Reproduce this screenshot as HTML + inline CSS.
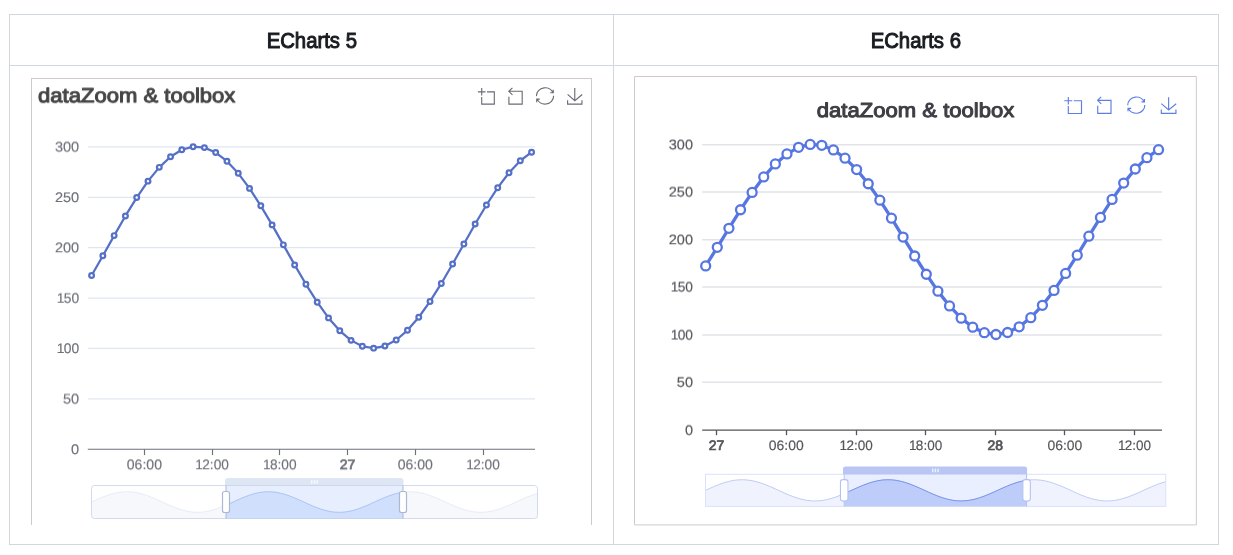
<!DOCTYPE html>
<html lang="en">
<head>
<meta charset="utf-8">
<title>dataZoom &amp; toolbox</title>
<style>
html,body{margin:0;padding:0;background:#fff;}
body{width:1233px;height:555px;overflow:hidden;position:relative;font-family:"Liberation Sans",sans-serif;}
table.cmp{position:absolute;left:9px;top:14px;width:1210px;height:531px;border-collapse:collapse;table-layout:fixed;}
table.cmp th,table.cmp td{border:1px solid #d0d7de;padding:0;}
table.cmp th{height:50px;font-size:21.5px;line-height:26px;font-weight:normal;color:#181b20;text-align:center;vertical-align:middle;}
table.cmp th span{display:inline-block;transform:scaleX(0.945);position:relative;top:1px;-webkit-text-stroke:1px #181b20;white-space:nowrap;}
table.cmp td{position:relative;vertical-align:top;}
.chart{position:absolute;box-sizing:border-box;border:1px solid #ccc;overflow:hidden;background:#fff;}
.chart svg{display:block;text-rendering:geometricPrecision;font-family:"Liberation Sans",sans-serif;}
#c5{left:21px;top:12px;width:561px;height:447px;border-bottom:none;}
#c6{left:20px;top:10px;width:564px;height:451px;border:none;}
</style>
</head>
<body>
<table class="cmp">
<colgroup><col style="width:604px"><col style="width:605px"></colgroup>
<thead><tr><th><span>ECharts 5</span></th><th><span>ECharts 6</span></th></tr></thead>
<tbody><tr>
<td><div class="chart" id="c5"><svg width="559" height="460" viewBox="0 0 559 460">
<defs><filter id="l-blur" x="-2%" y="-2%" width="104%" height="104%"><feGaussianBlur stdDeviation="0.45"/></filter></defs>
<g filter="url(#l-blur)">
<defs><filter id="l-s1" x="-50%" y="-50%" width="200%" height="200%"><feConvolveMatrix order="1 3" kernelMatrix="0 0.75 0.25" preserveAlpha="false"/></filter><filter id="l-s2" x="-50%" y="-50%" width="200%" height="200%"><feConvolveMatrix order="1 3" kernelMatrix="0 0.5 0.5" preserveAlpha="false"/></filter><filter id="l-s3" x="-50%" y="-50%" width="200%" height="200%"><feConvolveMatrix order="1 3" kernelMatrix="0 0.25 0.75" preserveAlpha="false"/></filter></defs>
<text x="6" y="23" font-size="20.2" fill="#464646" text-anchor="start" font-weight="normal" textLength="197.4" lengthAdjust="spacingAndGlyphs" filter="url(#l-s1)" stroke="#464646" stroke-width="1.0" stroke-linejoin="round">dataZoom &amp; toolbox</text>
<path d="M0,13.5h26.9 M13.5,26.9V0 M32.1,13.5H58V58H13.5 V32.1" transform="translate(445.9 9.1) scale(0.2828 0.2759) translate(0 0)" fill="none" stroke="#696b74" stroke-width="1.12" vector-effect="non-scaling-stroke" stroke-linecap="butt"/>
<path d="M22,1.4L9.9,13.5l12.3,12.3 M10.3,13.5H54.9v44.6 H10.3v-26" transform="translate(476.8 8.8) scale(0.2978 0.2875) translate(-9.9 -1.4)" fill="none" stroke="#696b74" stroke-width="1.12" vector-effect="non-scaling-stroke" stroke-linecap="butt"/>
<path d="M47,18.9h9.8V8.7 M56.3,20.1 C52.1,9,40.5,0.6,26.8,2.1C12.6,3.7,1.6,16.2,2.1,30.6 M13,41.1H3.1v10.2 M3.7,39.9c4.2,11.1,15.8,19.5,29.5,18 c14.2-1.6,25.2-14.1,24.7-28.5" transform="translate(504.4 8.8) scale(0.3082 0.2900) translate(-2.1 -1.9)" fill="none" stroke="#696b74" stroke-width="1.12" vector-effect="non-scaling-stroke" stroke-linecap="butt"/>
<path d="M4.7,22.9L29.3,45.5L54.7,23.4M4.6,43.6L4.6,58L53.8,58L53.8,43.6M29.2,45.1L29.2,0" transform="translate(535.6 9.1) scale(0.2914 0.2759) translate(-4.6 0)" fill="none" stroke="#696b74" stroke-width="1.12" vector-effect="non-scaling-stroke" stroke-linecap="butt"/>
<line x1="55.8" x2="503" y1="67.85" y2="67.85" stroke="#E0E6F1" stroke-width="1.25"/>
<line x1="55.8" x2="503" y1="118.25" y2="118.25" stroke="#E0E6F1" stroke-width="1.25"/>
<line x1="55.8" x2="503" y1="168.65" y2="168.65" stroke="#E0E6F1" stroke-width="1.25"/>
<line x1="55.8" x2="503" y1="219.05" y2="219.05" stroke="#E0E6F1" stroke-width="1.25"/>
<line x1="55.8" x2="503" y1="269.45" y2="269.45" stroke="#E0E6F1" stroke-width="1.25"/>
<line x1="55.8" x2="503" y1="319.85" y2="319.85" stroke="#E0E6F1" stroke-width="1.25"/>
<text transform="translate(47.2 72) scale(1.055 1)" font-size="13.8" fill="#6E7079" text-anchor="end" font-weight="normal" filter="url(#l-s2)" stroke="#6E7079" stroke-width="0.15">300</text>
<text transform="translate(47.2 123) scale(1.055 1)" font-size="13.8" fill="#6E7079" text-anchor="end" font-weight="normal" stroke="#6E7079" stroke-width="0.15">250</text>
<text transform="translate(47.2 173) scale(1.055 1)" font-size="13.8" fill="#6E7079" text-anchor="end" font-weight="normal" filter="url(#l-s1)" stroke="#6E7079" stroke-width="0.15">200</text>
<text transform="translate(47.2 223) scale(1.0022 1)" font-size="13.8" fill="#6E7079" text-anchor="end" font-weight="normal" filter="url(#l-s3)" stroke="#6E7079" stroke-width="0.15">1<tspan dx="-0.7">5</tspan>0</text>
<text transform="translate(47.2 274) scale(1.0022 1)" font-size="13.8" fill="#6E7079" text-anchor="end" font-weight="normal" stroke="#6E7079" stroke-width="0.15">1<tspan dx="-0.7">0</tspan>0</text>
<text transform="translate(47.2 324) scale(1.055 1)" font-size="13.8" fill="#6E7079" text-anchor="end" font-weight="normal" filter="url(#l-s2)" stroke="#6E7079" stroke-width="0.15">50</text>
<text transform="translate(47.2 375) scale(1.055 1)" font-size="13.8" fill="#6E7079" text-anchor="end" font-weight="normal" stroke="#6E7079" stroke-width="0.15">0</text>
<line x1="55.8" x2="503" y1="370.25" y2="370.25" stroke="#6E7079" stroke-width="1.15"/>
<line x1="112.5" x2="112.5" y1="370.25" y2="376.05" stroke="#6E7079" stroke-width="1.15"/>
<text transform="translate(112.4 390) scale(1.02 1)" font-size="13.8" fill="#6E7079" text-anchor="middle" font-weight="normal" filter="url(#l-s1)" stroke="#6E7079" stroke-width="0.15">06:00</text>
<line x1="180.5" x2="180.5" y1="370.25" y2="376.05" stroke="#6E7079" stroke-width="1.15"/>
<text transform="translate(180.1 390) scale(0.9894 1)" font-size="13.8" fill="#6E7079" text-anchor="middle" font-weight="normal" filter="url(#l-s1)" stroke="#6E7079" stroke-width="0.15">1<tspan dx="-0.7">2</tspan>:00</text>
<line x1="247.5" x2="247.5" y1="370.25" y2="376.05" stroke="#6E7079" stroke-width="1.15"/>
<text transform="translate(247.8 390) scale(0.9894 1)" font-size="13.8" fill="#6E7079" text-anchor="middle" font-weight="normal" filter="url(#l-s1)" stroke="#6E7079" stroke-width="0.15">1<tspan dx="-0.7">8</tspan>:00</text>
<line x1="315.5" x2="315.5" y1="370.25" y2="376.05" stroke="#6E7079" stroke-width="1.15"/>
<text transform="translate(315.6 390) scale(1.02 1)" font-size="13.8" fill="#6E7079" text-anchor="middle" font-weight="normal" filter="url(#l-s1)" stroke="#6E7079" stroke-width="0.7">27</text>
<line x1="383.5" x2="383.5" y1="370.25" y2="376.05" stroke="#6E7079" stroke-width="1.15"/>
<text transform="translate(383.3 390) scale(1.02 1)" font-size="13.8" fill="#6E7079" text-anchor="middle" font-weight="normal" filter="url(#l-s1)" stroke="#6E7079" stroke-width="0.15">06:00</text>
<line x1="451.5" x2="451.5" y1="370.25" y2="376.05" stroke="#6E7079" stroke-width="1.15"/>
<text transform="translate(451 390) scale(0.9894 1)" font-size="13.8" fill="#6E7079" text-anchor="middle" font-weight="normal" filter="url(#l-s1)" stroke="#6E7079" stroke-width="0.15">1<tspan dx="-0.7">2</tspan>:00</text>
<polyline points="59.58,196.52 70.87,176.73 82.15,156.6 93.43,136.95 104.71,118.54 115.99,102.13 127.28,88.35 138.56,77.76 149.84,70.78 161.12,67.7 172.4,68.62 183.69,73.52 194.97,82.21 206.25,94.32 217.53,109.39 228.81,126.81 240.1,145.88 251.38,165.85 262.66,185.92 273.94,205.29 285.22,223.19 296.51,238.9 307.79,251.79 319.07,261.37 330.35,267.23 341.63,269.15 352.92,267.05 364.2,261.02 375.48,251.29 386.76,238.26 398.04,222.44 409.33,204.46 420.61,185.04 431.89,164.96 443.17,145.01 454.45,126 465.74,108.67 477.02,93.72 488.3,81.75 499.58,73.23" fill="none" stroke="#5470c6" stroke-width="2.24" stroke-linejoin="bevel"/>
<circle cx="59.58" cy="196.52" r="2.35" fill="#fff" stroke="#5470c6" stroke-width="2.24"/>
<circle cx="70.87" cy="176.73" r="2.35" fill="#fff" stroke="#5470c6" stroke-width="2.24"/>
<circle cx="82.15" cy="156.6" r="2.35" fill="#fff" stroke="#5470c6" stroke-width="2.24"/>
<circle cx="93.43" cy="136.95" r="2.35" fill="#fff" stroke="#5470c6" stroke-width="2.24"/>
<circle cx="104.71" cy="118.54" r="2.35" fill="#fff" stroke="#5470c6" stroke-width="2.24"/>
<circle cx="115.99" cy="102.13" r="2.35" fill="#fff" stroke="#5470c6" stroke-width="2.24"/>
<circle cx="127.28" cy="88.35" r="2.35" fill="#fff" stroke="#5470c6" stroke-width="2.24"/>
<circle cx="138.56" cy="77.76" r="2.35" fill="#fff" stroke="#5470c6" stroke-width="2.24"/>
<circle cx="149.84" cy="70.78" r="2.35" fill="#fff" stroke="#5470c6" stroke-width="2.24"/>
<circle cx="161.12" cy="67.7" r="2.35" fill="#fff" stroke="#5470c6" stroke-width="2.24"/>
<circle cx="172.4" cy="68.62" r="2.35" fill="#fff" stroke="#5470c6" stroke-width="2.24"/>
<circle cx="183.69" cy="73.52" r="2.35" fill="#fff" stroke="#5470c6" stroke-width="2.24"/>
<circle cx="194.97" cy="82.21" r="2.35" fill="#fff" stroke="#5470c6" stroke-width="2.24"/>
<circle cx="206.25" cy="94.32" r="2.35" fill="#fff" stroke="#5470c6" stroke-width="2.24"/>
<circle cx="217.53" cy="109.39" r="2.35" fill="#fff" stroke="#5470c6" stroke-width="2.24"/>
<circle cx="228.81" cy="126.81" r="2.35" fill="#fff" stroke="#5470c6" stroke-width="2.24"/>
<circle cx="240.1" cy="145.88" r="2.35" fill="#fff" stroke="#5470c6" stroke-width="2.24"/>
<circle cx="251.38" cy="165.85" r="2.35" fill="#fff" stroke="#5470c6" stroke-width="2.24"/>
<circle cx="262.66" cy="185.92" r="2.35" fill="#fff" stroke="#5470c6" stroke-width="2.24"/>
<circle cx="273.94" cy="205.29" r="2.35" fill="#fff" stroke="#5470c6" stroke-width="2.24"/>
<circle cx="285.22" cy="223.19" r="2.35" fill="#fff" stroke="#5470c6" stroke-width="2.24"/>
<circle cx="296.51" cy="238.9" r="2.35" fill="#fff" stroke="#5470c6" stroke-width="2.24"/>
<circle cx="307.79" cy="251.79" r="2.35" fill="#fff" stroke="#5470c6" stroke-width="2.24"/>
<circle cx="319.07" cy="261.37" r="2.35" fill="#fff" stroke="#5470c6" stroke-width="2.24"/>
<circle cx="330.35" cy="267.23" r="2.35" fill="#fff" stroke="#5470c6" stroke-width="2.24"/>
<circle cx="341.63" cy="269.15" r="2.35" fill="#fff" stroke="#5470c6" stroke-width="2.24"/>
<circle cx="352.92" cy="267.05" r="2.35" fill="#fff" stroke="#5470c6" stroke-width="2.24"/>
<circle cx="364.2" cy="261.02" r="2.35" fill="#fff" stroke="#5470c6" stroke-width="2.24"/>
<circle cx="375.48" cy="251.29" r="2.35" fill="#fff" stroke="#5470c6" stroke-width="2.24"/>
<circle cx="386.76" cy="238.26" r="2.35" fill="#fff" stroke="#5470c6" stroke-width="2.24"/>
<circle cx="398.04" cy="222.44" r="2.35" fill="#fff" stroke="#5470c6" stroke-width="2.24"/>
<circle cx="409.33" cy="204.46" r="2.35" fill="#fff" stroke="#5470c6" stroke-width="2.24"/>
<circle cx="420.61" cy="185.04" r="2.35" fill="#fff" stroke="#5470c6" stroke-width="2.24"/>
<circle cx="431.89" cy="164.96" r="2.35" fill="#fff" stroke="#5470c6" stroke-width="2.24"/>
<circle cx="443.17" cy="145.01" r="2.35" fill="#fff" stroke="#5470c6" stroke-width="2.24"/>
<circle cx="454.45" cy="126" r="2.35" fill="#fff" stroke="#5470c6" stroke-width="2.24"/>
<circle cx="465.74" cy="108.67" r="2.35" fill="#fff" stroke="#5470c6" stroke-width="2.24"/>
<circle cx="477.02" cy="93.72" r="2.35" fill="#fff" stroke="#5470c6" stroke-width="2.24"/>
<circle cx="488.3" cy="81.75" r="2.35" fill="#fff" stroke="#5470c6" stroke-width="2.24"/>
<circle cx="499.58" cy="73.23" r="2.35" fill="#fff" stroke="#5470c6" stroke-width="2.24"/>
<defs><clipPath id="l-sel"><rect x="194" y="406.5" width="177" height="33"/></clipPath></defs>
<rect x="59.5" y="406.5" width="446" height="33" fill="none"/>
<path d="M59.5,439.5 L59.5,423 L64.01,420.95 L68.51,418.98 L73.02,417.18 L77.52,415.6 L82.03,414.32 L86.53,413.39 L91.04,412.84 L95.54,412.69 L100.05,412.96 L104.55,413.62 L109.06,414.66 L113.56,416.03 L118.07,417.68 L122.57,419.55 L127.08,421.54 L131.58,423.6 L136.09,425.64 L140.59,427.56 L145.1,429.31 L149.6,430.8 L154.11,431.99 L158.61,432.81 L163.12,433.25 L167.62,433.27 L172.13,432.89 L176.63,432.11 L181.14,430.97 L185.64,429.51 L190.15,427.79 L194.65,425.88 L199.16,423.86 L203.66,421.8 L208.17,419.79 L212.67,417.9 L217.18,416.22 L221.68,414.82 L226.19,413.73 L230.69,413.02 L235.2,412.7 L239.7,412.8 L244.21,413.3 L248.71,414.19 L253.22,415.43 L257.72,416.97 L262.23,418.75 L266.73,420.7 L271.24,422.74 L275.74,424.8 L280.25,426.78 L284.75,428.61 L289.26,430.22 L293.76,431.54 L298.27,432.52 L302.77,433.12 L307.28,433.31 L311.78,433.1 L316.29,432.48 L320.79,431.49 L325.3,430.15 L329.8,428.53 L334.31,426.69 L338.81,424.71 L343.32,422.65 L347.82,420.61 L352.33,418.67 L356.83,416.89 L361.34,415.36 L365.84,414.14 L370.35,413.27 L374.85,412.78 L379.36,412.71 L383.86,413.04 L388.37,413.77 L392.87,414.87 L397.38,416.29 L401.88,417.98 L406.39,419.87 L410.89,421.89 L415.4,423.95 L419.9,425.97 L424.41,427.87 L428.91,429.58 L433.42,431.03 L437.92,432.15 L442.43,432.91 L446.93,433.28 L451.44,433.24 L455.94,432.78 L460.45,431.94 L464.95,430.74 L469.46,429.24 L473.96,427.48 L478.47,425.55 L482.97,423.51 L487.48,421.45 L491.98,419.46 L496.49,417.61 L500.99,415.97 L505.5,414.61 L505.5,439.5 Z" fill="#d2dbee" fill-opacity="0.2"/>
<polyline points="59.5,423 64.01,420.95 68.51,418.98 73.02,417.18 77.52,415.6 82.03,414.32 86.53,413.39 91.04,412.84 95.54,412.69 100.05,412.96 104.55,413.62 109.06,414.66 113.56,416.03 118.07,417.68 122.57,419.55 127.08,421.54 131.58,423.6 136.09,425.64 140.59,427.56 145.1,429.31 149.6,430.8 154.11,431.99 158.61,432.81 163.12,433.25 167.62,433.27 172.13,432.89 176.63,432.11 181.14,430.97 185.64,429.51 190.15,427.79 194.65,425.88 199.16,423.86 203.66,421.8 208.17,419.79 212.67,417.9 217.18,416.22 221.68,414.82 226.19,413.73 230.69,413.02 235.2,412.7 239.7,412.8 244.21,413.3 248.71,414.19 253.22,415.43 257.72,416.97 262.23,418.75 266.73,420.7 271.24,422.74 275.74,424.8 280.25,426.78 284.75,428.61 289.26,430.22 293.76,431.54 298.27,432.52 302.77,433.12 307.28,433.31 311.78,433.1 316.29,432.48 320.79,431.49 325.3,430.15 329.8,428.53 334.31,426.69 338.81,424.71 343.32,422.65 347.82,420.61 352.33,418.67 356.83,416.89 361.34,415.36 365.84,414.14 370.35,413.27 374.85,412.78 379.36,412.71 383.86,413.04 388.37,413.77 392.87,414.87 397.38,416.29 401.88,417.98 406.39,419.87 410.89,421.89 415.4,423.95 419.9,425.97 424.41,427.87 428.91,429.58 433.42,431.03 437.92,432.15 442.43,432.91 446.93,433.28 451.44,433.24 455.94,432.78 460.45,431.94 464.95,430.74 469.46,429.24 473.96,427.48 478.47,425.55 482.97,423.51 487.48,421.45 491.98,419.46 496.49,417.61 500.99,415.97 505.5,414.61" fill="none" stroke="#d2dbee" stroke-width="0.5"/>
<rect x="59.5" y="406.5" width="446" height="33" rx="3" fill="none" stroke="#d2dbee" stroke-width="1"/>
<g clip-path="url(#l-sel)">
<path d="M59.5,439.5 L59.5,423 L64.01,420.95 L68.51,418.98 L73.02,417.18 L77.52,415.6 L82.03,414.32 L86.53,413.39 L91.04,412.84 L95.54,412.69 L100.05,412.96 L104.55,413.62 L109.06,414.66 L113.56,416.03 L118.07,417.68 L122.57,419.55 L127.08,421.54 L131.58,423.6 L136.09,425.64 L140.59,427.56 L145.1,429.31 L149.6,430.8 L154.11,431.99 L158.61,432.81 L163.12,433.25 L167.62,433.27 L172.13,432.89 L176.63,432.11 L181.14,430.97 L185.64,429.51 L190.15,427.79 L194.65,425.88 L199.16,423.86 L203.66,421.8 L208.17,419.79 L212.67,417.9 L217.18,416.22 L221.68,414.82 L226.19,413.73 L230.69,413.02 L235.2,412.7 L239.7,412.8 L244.21,413.3 L248.71,414.19 L253.22,415.43 L257.72,416.97 L262.23,418.75 L266.73,420.7 L271.24,422.74 L275.74,424.8 L280.25,426.78 L284.75,428.61 L289.26,430.22 L293.76,431.54 L298.27,432.52 L302.77,433.12 L307.28,433.31 L311.78,433.1 L316.29,432.48 L320.79,431.49 L325.3,430.15 L329.8,428.53 L334.31,426.69 L338.81,424.71 L343.32,422.65 L347.82,420.61 L352.33,418.67 L356.83,416.89 L361.34,415.36 L365.84,414.14 L370.35,413.27 L374.85,412.78 L379.36,412.71 L383.86,413.04 L388.37,413.77 L392.87,414.87 L397.38,416.29 L401.88,417.98 L406.39,419.87 L410.89,421.89 L415.4,423.95 L419.9,425.97 L424.41,427.87 L428.91,429.58 L433.42,431.03 L437.92,432.15 L442.43,432.91 L446.93,433.28 L451.44,433.24 L455.94,432.78 L460.45,431.94 L464.95,430.74 L469.46,429.24 L473.96,427.48 L478.47,425.55 L482.97,423.51 L487.48,421.45 L491.98,419.46 L496.49,417.61 L500.99,415.97 L505.5,414.61 L505.5,439.5 Z" fill="#8fb0f7" fill-opacity="0.2"/>
<polyline points="59.5,423 64.01,420.95 68.51,418.98 73.02,417.18 77.52,415.6 82.03,414.32 86.53,413.39 91.04,412.84 95.54,412.69 100.05,412.96 104.55,413.62 109.06,414.66 113.56,416.03 118.07,417.68 122.57,419.55 127.08,421.54 131.58,423.6 136.09,425.64 140.59,427.56 145.1,429.31 149.6,430.8 154.11,431.99 158.61,432.81 163.12,433.25 167.62,433.27 172.13,432.89 176.63,432.11 181.14,430.97 185.64,429.51 190.15,427.79 194.65,425.88 199.16,423.86 203.66,421.8 208.17,419.79 212.67,417.9 217.18,416.22 221.68,414.82 226.19,413.73 230.69,413.02 235.2,412.7 239.7,412.8 244.21,413.3 248.71,414.19 253.22,415.43 257.72,416.97 262.23,418.75 266.73,420.7 271.24,422.74 275.74,424.8 280.25,426.78 284.75,428.61 289.26,430.22 293.76,431.54 298.27,432.52 302.77,433.12 307.28,433.31 311.78,433.1 316.29,432.48 320.79,431.49 325.3,430.15 329.8,428.53 334.31,426.69 338.81,424.71 343.32,422.65 347.82,420.61 352.33,418.67 356.83,416.89 361.34,415.36 365.84,414.14 370.35,413.27 374.85,412.78 379.36,412.71 383.86,413.04 388.37,413.77 392.87,414.87 397.38,416.29 401.88,417.98 406.39,419.87 410.89,421.89 415.4,423.95 419.9,425.97 424.41,427.87 428.91,429.58 433.42,431.03 437.92,432.15 442.43,432.91 446.93,433.28 451.44,433.24 455.94,432.78 460.45,431.94 464.95,430.74 469.46,429.24 473.96,427.48 478.47,425.55 482.97,423.51 487.48,421.45 491.98,419.46 496.49,417.61 500.99,415.97 505.5,414.61" fill="none" stroke="#8fb0f7" stroke-width="0.5"/>
</g>
<rect x="194" y="406.5" width="177" height="33" fill="rgba(135,175,255,0.2)"/>
<path d="M193,406.5 V402.1 Q193,399.1 196,399.1 H368.5 Q371.5,399.1 371.5,402.1 V406.5 Z" fill="rgba(210,219,238,0.7)"/>
<rect x="279.1" y="401.1" width="1.4" height="3.6" fill="#fff" fill-opacity="0.75"/>
<rect x="281.8" y="401.1" width="1.4" height="3.6" fill="#fff" fill-opacity="0.75"/>
<rect x="284.5" y="401.1" width="1.4" height="3.6" fill="#fff" fill-opacity="0.75"/>
<line x1="194" x2="194" y1="406.5" y2="439.5" stroke="#ACB8D1" stroke-width="1"/>
<rect x="190.5" y="412.5" width="7" height="21" rx="2" fill="#fff" stroke="#ACB8D1" stroke-width="1.2"/>
<line x1="371" x2="371" y1="406.5" y2="439.5" stroke="#ACB8D1" stroke-width="1"/>
<rect x="367.5" y="412.5" width="7" height="21" rx="2" fill="#fff" stroke="#ACB8D1" stroke-width="1.2"/>
</g>

</svg></div></td>
<td><div class="chart" id="c6"><svg width="564" height="451" viewBox="0 0 564 451">
<defs><filter id="r-blur" x="-2%" y="-2%" width="104%" height="104%"><feGaussianBlur stdDeviation="0.45"/></filter></defs>
<g filter="url(#r-blur)">
<defs><filter id="r-s1" x="-50%" y="-50%" width="200%" height="200%"><feConvolveMatrix order="1 3" kernelMatrix="0 0.75 0.25" preserveAlpha="false"/></filter><filter id="r-s2" x="-50%" y="-50%" width="200%" height="200%"><feConvolveMatrix order="1 3" kernelMatrix="0 0.5 0.5" preserveAlpha="false"/></filter><filter id="r-s3" x="-50%" y="-50%" width="200%" height="200%"><feConvolveMatrix order="1 3" kernelMatrix="0 0.25 0.75" preserveAlpha="false"/></filter></defs>
<text x="281.55" y="41" font-size="20.2" fill="#3d3d44" text-anchor="middle" font-weight="normal" textLength="197.6" lengthAdjust="spacingAndGlyphs" stroke="#3d3d44" stroke-width="1.0" stroke-linejoin="round">dataZoom &amp; toolbox</text>
<path d="M0,13.5h26.9 M13.5,26.9V0 M32.1,13.5H58V58H13.5 V32.1" transform="translate(430.3 20.9) scale(0.2966 0.2862) translate(0 0)" fill="none" stroke="#5f7fe0" stroke-width="1.15" vector-effect="non-scaling-stroke" stroke-linecap="butt"/>
<path d="M22,1.4L9.9,13.5l12.3,12.3 M10.3,13.5H54.9v44.6 H10.3v-26" transform="translate(463.6 20.8) scale(0.2978 0.2928) translate(-9.9 -1.4)" fill="none" stroke="#5f7fe0" stroke-width="1.15" vector-effect="non-scaling-stroke" stroke-linecap="butt"/>
<path d="M47,18.9h9.8V8.7 M56.3,20.1 C52.1,9,40.5,0.6,26.8,2.1C12.6,3.7,1.6,16.2,2.1,30.6 M13,41.1H3.1v10.2 M3.7,39.9c4.2,11.1,15.8,19.5,29.5,18 c14.2-1.6,25.2-14.1,24.7-28.5" transform="translate(493.7 21) scale(0.3065 0.2900) translate(-2.1 -1.9)" fill="none" stroke="#5f7fe0" stroke-width="1.15" vector-effect="non-scaling-stroke" stroke-linecap="butt"/>
<path d="M4.7,22.9L29.3,45.5L54.7,23.4M4.6,43.6L4.6,58L53.8,58L53.8,43.6M29.2,45.1L29.2,0" transform="translate(527.3 21.3) scale(0.2974 0.2776) translate(-4.6 0)" fill="none" stroke="#5f7fe0" stroke-width="1.15" vector-effect="non-scaling-stroke" stroke-linecap="butt"/>
<line x1="68.2" x2="528" y1="68.8" y2="68.8" stroke="#e2e3e8" stroke-width="1.5"/>
<line x1="68.2" x2="528" y1="115.9" y2="115.9" stroke="#e2e3e8" stroke-width="1.5"/>
<line x1="68.2" x2="528" y1="163.7" y2="163.7" stroke="#e2e3e8" stroke-width="1.5"/>
<line x1="68.2" x2="528" y1="211" y2="211" stroke="#e2e3e8" stroke-width="1.5"/>
<line x1="68.2" x2="528" y1="258.9" y2="258.9" stroke="#e2e3e8" stroke-width="1.5"/>
<line x1="68.2" x2="528" y1="306.2" y2="306.2" stroke="#e2e3e8" stroke-width="1.5"/>
<text transform="translate(59 73) scale(1.06 1)" font-size="13.7" fill="#54555a" text-anchor="end" font-weight="normal" filter="url(#r-s1)" stroke="#54555a" stroke-width="0.15">300</text>
<text transform="translate(59 120) scale(1.06 1)" font-size="13.7" fill="#54555a" text-anchor="end" font-weight="normal" filter="url(#r-s2)" stroke="#54555a" stroke-width="0.15">250</text>
<text transform="translate(59 168) scale(1.06 1)" font-size="13.7" fill="#54555a" text-anchor="end" font-weight="normal" filter="url(#r-s1)" stroke="#54555a" stroke-width="0.15">200</text>
<text transform="translate(59 215) scale(1.007 1)" font-size="13.7" fill="#54555a" text-anchor="end" font-weight="normal" filter="url(#r-s2)" stroke="#54555a" stroke-width="0.15">1<tspan dx="-0.7">5</tspan>0</text>
<text transform="translate(59 263) scale(1.007 1)" font-size="13.7" fill="#54555a" text-anchor="end" font-weight="normal" filter="url(#r-s2)" stroke="#54555a" stroke-width="0.15">1<tspan dx="-0.7">0</tspan>0</text>
<text transform="translate(59 310) scale(1.06 1)" font-size="13.7" fill="#54555a" text-anchor="end" font-weight="normal" filter="url(#r-s3)" stroke="#54555a" stroke-width="0.15">50</text>
<text transform="translate(59 358) scale(1.06 1)" font-size="13.7" fill="#54555a" text-anchor="end" font-weight="normal" filter="url(#r-s3)" stroke="#54555a" stroke-width="0.15">0</text>
<line x1="68.2" x2="528" y1="354.2" y2="354.2" stroke="#54555a" stroke-width="1.3"/>
<line x1="82.5" x2="82.5" y1="354.2" y2="359.2" stroke="#54555a" stroke-width="1.3"/>
<text transform="translate(82.5 374) scale(1.02 1)" font-size="13.7" fill="#54555a" text-anchor="middle" font-weight="normal" stroke="#54555a" stroke-width="0.7">27</text>
<line x1="152.5" x2="152.5" y1="354.2" y2="359.2" stroke="#54555a" stroke-width="1.3"/>
<text transform="translate(152.2 374) scale(1.02 1)" font-size="13.7" fill="#54555a" text-anchor="middle" font-weight="normal" stroke="#54555a" stroke-width="0.15">06:00</text>
<line x1="222.5" x2="222.5" y1="354.2" y2="359.2" stroke="#54555a" stroke-width="1.3"/>
<text transform="translate(222.2 374) scale(0.9894 1)" font-size="13.7" fill="#54555a" text-anchor="middle" font-weight="normal" stroke="#54555a" stroke-width="0.15">1<tspan dx="-0.7">2</tspan>:00</text>
<line x1="291.5" x2="291.5" y1="354.2" y2="359.2" stroke="#54555a" stroke-width="1.3"/>
<text transform="translate(291.6 374) scale(0.9894 1)" font-size="13.7" fill="#54555a" text-anchor="middle" font-weight="normal" stroke="#54555a" stroke-width="0.15">1<tspan dx="-0.7">8</tspan>:00</text>
<line x1="361.5" x2="361.5" y1="354.2" y2="359.2" stroke="#54555a" stroke-width="1.3"/>
<text transform="translate(361.3 374) scale(1.02 1)" font-size="13.7" fill="#54555a" text-anchor="middle" font-weight="normal" stroke="#54555a" stroke-width="0.7">28</text>
<line x1="430.5" x2="430.5" y1="354.2" y2="359.2" stroke="#54555a" stroke-width="1.3"/>
<text transform="translate(430.9 374) scale(1.02 1)" font-size="13.7" fill="#54555a" text-anchor="middle" font-weight="normal" stroke="#54555a" stroke-width="0.15">06:00</text>
<line x1="500.5" x2="500.5" y1="354.2" y2="359.2" stroke="#54555a" stroke-width="1.3"/>
<text transform="translate(500.5 374) scale(0.9894 1)" font-size="13.7" fill="#54555a" text-anchor="middle" font-weight="normal" stroke="#54555a" stroke-width="0.15">1<tspan dx="-0.7">2</tspan>:00</text>
<polyline points="71.68,189.97 83.29,171.3 94.91,152.32 106.52,133.77 118.13,116.41 129.74,100.92 141.35,87.92 152.96,77.93 164.57,71.35 176.18,68.44 187.79,69.31 199.41,73.94 211.02,82.13 222.63,93.56 234.24,107.77 245.85,124.21 257.46,142.2 269.07,161.04 280.68,179.98 292.29,198.25 303.91,215.14 315.52,229.96 327.13,242.13 338.74,251.16 350.35,256.69 361.96,258.5 373.57,256.52 385.18,250.83 396.79,241.65 408.41,229.35 420.02,214.43 431.63,197.47 443.24,179.15 454.85,160.2 466.46,141.38 478.07,123.44 489.68,107.09 501.29,92.99 512.91,81.69 524.52,73.65" fill="none" stroke="#5776e1" stroke-width="3.3" stroke-linejoin="bevel"/>
<circle cx="71.68" cy="189.97" r="4.5" fill="#fff" stroke="#5776e1" stroke-width="2.3"/>
<circle cx="83.29" cy="171.3" r="4.5" fill="#fff" stroke="#5776e1" stroke-width="2.3"/>
<circle cx="94.91" cy="152.32" r="4.5" fill="#fff" stroke="#5776e1" stroke-width="2.3"/>
<circle cx="106.52" cy="133.77" r="4.5" fill="#fff" stroke="#5776e1" stroke-width="2.3"/>
<circle cx="118.13" cy="116.41" r="4.5" fill="#fff" stroke="#5776e1" stroke-width="2.3"/>
<circle cx="129.74" cy="100.92" r="4.5" fill="#fff" stroke="#5776e1" stroke-width="2.3"/>
<circle cx="141.35" cy="87.92" r="4.5" fill="#fff" stroke="#5776e1" stroke-width="2.3"/>
<circle cx="152.96" cy="77.93" r="4.5" fill="#fff" stroke="#5776e1" stroke-width="2.3"/>
<circle cx="164.57" cy="71.35" r="4.5" fill="#fff" stroke="#5776e1" stroke-width="2.3"/>
<circle cx="176.18" cy="68.44" r="4.5" fill="#fff" stroke="#5776e1" stroke-width="2.3"/>
<circle cx="187.79" cy="69.31" r="4.5" fill="#fff" stroke="#5776e1" stroke-width="2.3"/>
<circle cx="199.41" cy="73.94" r="4.5" fill="#fff" stroke="#5776e1" stroke-width="2.3"/>
<circle cx="211.02" cy="82.13" r="4.5" fill="#fff" stroke="#5776e1" stroke-width="2.3"/>
<circle cx="222.63" cy="93.56" r="4.5" fill="#fff" stroke="#5776e1" stroke-width="2.3"/>
<circle cx="234.24" cy="107.77" r="4.5" fill="#fff" stroke="#5776e1" stroke-width="2.3"/>
<circle cx="245.85" cy="124.21" r="4.5" fill="#fff" stroke="#5776e1" stroke-width="2.3"/>
<circle cx="257.46" cy="142.2" r="4.5" fill="#fff" stroke="#5776e1" stroke-width="2.3"/>
<circle cx="269.07" cy="161.04" r="4.5" fill="#fff" stroke="#5776e1" stroke-width="2.3"/>
<circle cx="280.68" cy="179.98" r="4.5" fill="#fff" stroke="#5776e1" stroke-width="2.3"/>
<circle cx="292.29" cy="198.25" r="4.5" fill="#fff" stroke="#5776e1" stroke-width="2.3"/>
<circle cx="303.91" cy="215.14" r="4.5" fill="#fff" stroke="#5776e1" stroke-width="2.3"/>
<circle cx="315.52" cy="229.96" r="4.5" fill="#fff" stroke="#5776e1" stroke-width="2.3"/>
<circle cx="327.13" cy="242.13" r="4.5" fill="#fff" stroke="#5776e1" stroke-width="2.3"/>
<circle cx="338.74" cy="251.16" r="4.5" fill="#fff" stroke="#5776e1" stroke-width="2.3"/>
<circle cx="350.35" cy="256.69" r="4.5" fill="#fff" stroke="#5776e1" stroke-width="2.3"/>
<circle cx="361.96" cy="258.5" r="4.5" fill="#fff" stroke="#5776e1" stroke-width="2.3"/>
<circle cx="373.57" cy="256.52" r="4.5" fill="#fff" stroke="#5776e1" stroke-width="2.3"/>
<circle cx="385.18" cy="250.83" r="4.5" fill="#fff" stroke="#5776e1" stroke-width="2.3"/>
<circle cx="396.79" cy="241.65" r="4.5" fill="#fff" stroke="#5776e1" stroke-width="2.3"/>
<circle cx="408.41" cy="229.35" r="4.5" fill="#fff" stroke="#5776e1" stroke-width="2.3"/>
<circle cx="420.02" cy="214.43" r="4.5" fill="#fff" stroke="#5776e1" stroke-width="2.3"/>
<circle cx="431.63" cy="197.47" r="4.5" fill="#fff" stroke="#5776e1" stroke-width="2.3"/>
<circle cx="443.24" cy="179.15" r="4.5" fill="#fff" stroke="#5776e1" stroke-width="2.3"/>
<circle cx="454.85" cy="160.2" r="4.5" fill="#fff" stroke="#5776e1" stroke-width="2.3"/>
<circle cx="466.46" cy="141.38" r="4.5" fill="#fff" stroke="#5776e1" stroke-width="2.3"/>
<circle cx="478.07" cy="123.44" r="4.5" fill="#fff" stroke="#5776e1" stroke-width="2.3"/>
<circle cx="489.68" cy="107.09" r="4.5" fill="#fff" stroke="#5776e1" stroke-width="2.3"/>
<circle cx="501.29" cy="92.99" r="4.5" fill="#fff" stroke="#5776e1" stroke-width="2.3"/>
<circle cx="512.91" cy="81.69" r="4.5" fill="#fff" stroke="#5776e1" stroke-width="2.3"/>
<circle cx="524.52" cy="73.65" r="4.5" fill="#fff" stroke="#5776e1" stroke-width="2.3"/>
<defs><clipPath id="r-sel"><rect x="210.2" y="398.3" width="182.4" height="32.1"/></clipPath></defs>
<rect x="71.5" y="398.3" width="460.2" height="32.1" fill="none"/>
<path d="M71.5,430.4 L71.5,414.35 L76.15,412.24 L80.8,410.21 L85.45,408.35 L90.09,406.73 L94.74,405.41 L99.39,404.44 L104.04,403.88 L108.69,403.73 L113.34,404 L117.98,404.68 L122.63,405.76 L127.28,407.17 L131.93,408.87 L136.58,410.79 L141.23,412.85 L145.88,414.97 L150.52,417.07 L155.17,419.05 L159.82,420.85 L164.47,422.39 L169.12,423.61 L173.77,424.46 L178.42,424.91 L183.06,424.94 L187.71,424.54 L192.36,423.74 L197.01,422.56 L201.66,421.06 L206.31,419.29 L210.95,417.32 L215.6,415.23 L220.25,413.11 L224.9,411.04 L229.55,409.1 L234.2,407.37 L238.85,405.91 L243.49,404.8 L248.14,404.06 L252.79,403.74 L257.44,403.83 L262.09,404.35 L266.74,405.27 L271.38,406.54 L276.03,408.13 L280.68,409.97 L285.33,411.98 L289.98,414.09 L294.63,416.2 L299.28,418.25 L303.92,420.13 L308.57,421.79 L313.22,423.15 L317.87,424.16 L322.52,424.78 L327.17,424.98 L331.82,424.76 L336.46,424.12 L341.11,423.1 L345.76,421.72 L350.41,420.05 L355.06,418.16 L359.71,416.11 L364.35,413.99 L369,411.89 L373.65,409.88 L378.3,408.06 L382.95,406.48 L387.6,405.22 L392.25,404.32 L396.89,403.82 L401.54,403.74 L406.19,404.09 L410.84,404.84 L415.49,405.97 L420.14,407.44 L424.78,409.18 L429.43,411.13 L434.08,413.2 L438.73,415.33 L443.38,417.41 L448.03,419.37 L452.68,421.13 L457.32,422.62 L461.97,423.78 L466.62,424.57 L471.27,424.95 L475.92,424.9 L480.57,424.44 L485.22,423.57 L489.86,422.33 L494.51,420.78 L499.16,418.97 L503.81,416.98 L508.46,414.88 L513.11,412.76 L517.75,410.7 L522.4,408.79 L527.05,407.1 L531.7,405.7 L531.7,430.4 Z" fill="#f0f3fe" fill-opacity="1"/>
<polyline points="71.5,414.35 76.15,412.24 80.8,410.21 85.45,408.35 90.09,406.73 94.74,405.41 99.39,404.44 104.04,403.88 108.69,403.73 113.34,404 117.98,404.68 122.63,405.76 127.28,407.17 131.93,408.87 136.58,410.79 141.23,412.85 145.88,414.97 150.52,417.07 155.17,419.05 159.82,420.85 164.47,422.39 169.12,423.61 173.77,424.46 178.42,424.91 183.06,424.94 187.71,424.54 192.36,423.74 197.01,422.56 201.66,421.06 206.31,419.29 210.95,417.32 215.6,415.23 220.25,413.11 224.9,411.04 229.55,409.1 234.2,407.37 238.85,405.91 243.49,404.8 248.14,404.06 252.79,403.74 257.44,403.83 262.09,404.35 266.74,405.27 271.38,406.54 276.03,408.13 280.68,409.97 285.33,411.98 289.98,414.09 294.63,416.2 299.28,418.25 303.92,420.13 308.57,421.79 313.22,423.15 317.87,424.16 322.52,424.78 327.17,424.98 331.82,424.76 336.46,424.12 341.11,423.1 345.76,421.72 350.41,420.05 355.06,418.16 359.71,416.11 364.35,413.99 369,411.89 373.65,409.88 378.3,408.06 382.95,406.48 387.6,405.22 392.25,404.32 396.89,403.82 401.54,403.74 406.19,404.09 410.84,404.84 415.49,405.97 420.14,407.44 424.78,409.18 429.43,411.13 434.08,413.2 438.73,415.33 443.38,417.41 448.03,419.37 452.68,421.13 457.32,422.62 461.97,423.78 466.62,424.57 471.27,424.95 475.92,424.9 480.57,424.44 485.22,423.57 489.86,422.33 494.51,420.78 499.16,418.97 503.81,416.98 508.46,414.88 513.11,412.76 517.75,410.7 522.4,408.79 527.05,407.1 531.7,405.7" fill="none" stroke="#b9c6f4" stroke-width="0.9"/>
<rect x="71.5" y="398.3" width="460.2" height="32.1" rx="0" fill="none" stroke="#dbe2fb" stroke-width="1"/>
<g clip-path="url(#r-sel)">
<path d="M71.5,430.4 L71.5,414.35 L76.15,412.24 L80.8,410.21 L85.45,408.35 L90.09,406.73 L94.74,405.41 L99.39,404.44 L104.04,403.88 L108.69,403.73 L113.34,404 L117.98,404.68 L122.63,405.76 L127.28,407.17 L131.93,408.87 L136.58,410.79 L141.23,412.85 L145.88,414.97 L150.52,417.07 L155.17,419.05 L159.82,420.85 L164.47,422.39 L169.12,423.61 L173.77,424.46 L178.42,424.91 L183.06,424.94 L187.71,424.54 L192.36,423.74 L197.01,422.56 L201.66,421.06 L206.31,419.29 L210.95,417.32 L215.6,415.23 L220.25,413.11 L224.9,411.04 L229.55,409.1 L234.2,407.37 L238.85,405.91 L243.49,404.8 L248.14,404.06 L252.79,403.74 L257.44,403.83 L262.09,404.35 L266.74,405.27 L271.38,406.54 L276.03,408.13 L280.68,409.97 L285.33,411.98 L289.98,414.09 L294.63,416.2 L299.28,418.25 L303.92,420.13 L308.57,421.79 L313.22,423.15 L317.87,424.16 L322.52,424.78 L327.17,424.98 L331.82,424.76 L336.46,424.12 L341.11,423.1 L345.76,421.72 L350.41,420.05 L355.06,418.16 L359.71,416.11 L364.35,413.99 L369,411.89 L373.65,409.88 L378.3,408.06 L382.95,406.48 L387.6,405.22 L392.25,404.32 L396.89,403.82 L401.54,403.74 L406.19,404.09 L410.84,404.84 L415.49,405.97 L420.14,407.44 L424.78,409.18 L429.43,411.13 L434.08,413.2 L438.73,415.33 L443.38,417.41 L448.03,419.37 L452.68,421.13 L457.32,422.62 L461.97,423.78 L466.62,424.57 L471.27,424.95 L475.92,424.9 L480.57,424.44 L485.22,423.57 L489.86,422.33 L494.51,420.78 L499.16,418.97 L503.81,416.98 L508.46,414.88 L513.11,412.76 L517.75,410.7 L522.4,408.79 L527.05,407.1 L531.7,405.7 L531.7,430.4 Z" fill="#cdd7f8" fill-opacity="1"/>
<polyline points="71.5,414.35 76.15,412.24 80.8,410.21 85.45,408.35 90.09,406.73 94.74,405.41 99.39,404.44 104.04,403.88 108.69,403.73 113.34,404 117.98,404.68 122.63,405.76 127.28,407.17 131.93,408.87 136.58,410.79 141.23,412.85 145.88,414.97 150.52,417.07 155.17,419.05 159.82,420.85 164.47,422.39 169.12,423.61 173.77,424.46 178.42,424.91 183.06,424.94 187.71,424.54 192.36,423.74 197.01,422.56 201.66,421.06 206.31,419.29 210.95,417.32 215.6,415.23 220.25,413.11 224.9,411.04 229.55,409.1 234.2,407.37 238.85,405.91 243.49,404.8 248.14,404.06 252.79,403.74 257.44,403.83 262.09,404.35 266.74,405.27 271.38,406.54 276.03,408.13 280.68,409.97 285.33,411.98 289.98,414.09 294.63,416.2 299.28,418.25 303.92,420.13 308.57,421.79 313.22,423.15 317.87,424.16 322.52,424.78 327.17,424.98 331.82,424.76 336.46,424.12 341.11,423.1 345.76,421.72 350.41,420.05 355.06,418.16 359.71,416.11 364.35,413.99 369,411.89 373.65,409.88 378.3,408.06 382.95,406.48 387.6,405.22 392.25,404.32 396.89,403.82 401.54,403.74 406.19,404.09 410.84,404.84 415.49,405.97 420.14,407.44 424.78,409.18 429.43,411.13 434.08,413.2 438.73,415.33 443.38,417.41 448.03,419.37 452.68,421.13 457.32,422.62 461.97,423.78 466.62,424.57 471.27,424.95 475.92,424.9 480.57,424.44 485.22,423.57 489.86,422.33 494.51,420.78 499.16,418.97 503.81,416.98 508.46,414.88 513.11,412.76 517.75,410.7 522.4,408.79 527.05,407.1 531.7,405.7" fill="none" stroke="#6482e2" stroke-width="0.75"/>
</g>
<rect x="210.2" y="398.3" width="182.4" height="32.1" fill="rgba(100,140,255,0.14)"/>
<path d="M209,398.3 V392.9 Q209,390.4 211.5,390.4 H390.6 Q393.1,390.4 393.1,392.9 V398.3 Z" fill="#b9c6f3"/>
<rect x="298" y="392.65" width="1.4" height="3.6" fill="#fff" fill-opacity="0.75"/>
<rect x="300.7" y="392.65" width="1.4" height="3.6" fill="#fff" fill-opacity="0.75"/>
<rect x="303.4" y="392.65" width="1.4" height="3.6" fill="#fff" fill-opacity="0.75"/>
<line x1="210.2" x2="210.2" y1="398.3" y2="430.4" stroke="#b4c2f2" stroke-width="1"/>
<rect x="206.45" y="403.6" width="7.5" height="21.5" rx="2.5" fill="#fff" stroke="#b4c2f2" stroke-width="1.1"/>
<line x1="392.6" x2="392.6" y1="398.3" y2="430.4" stroke="#b4c2f2" stroke-width="1"/>
<rect x="388.85" y="403.6" width="7.5" height="21.5" rx="2.5" fill="#fff" stroke="#b4c2f2" stroke-width="1.1"/>
</g>
<path d="M0.5,0.5 H562.35 V448.9 H0.5 Z" fill="none" stroke="#ccc" stroke-width="1"/>
</svg></div></td>
</tr></tbody>
</table>
</body>
</html>
